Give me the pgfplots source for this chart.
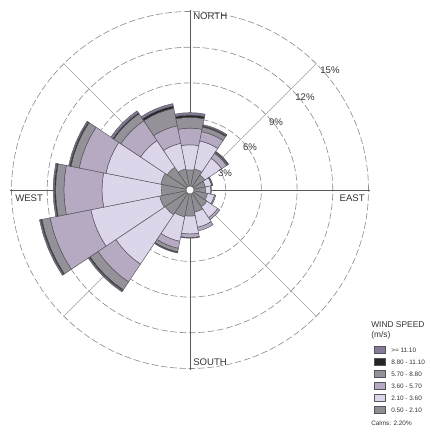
\documentclass[border=0pt]{standalone}
\usepackage{pgfplots}
\usepackage{pgfplotstable}
\pgfplotsset{compat=1.18}
\usepackage{fontspec}
\setmainfont{Liberation Sans}

\definecolor{bA}{HTML}{8E8E93}
\definecolor{bB}{HTML}{DDD6EB}
\definecolor{bC}{HTML}{B6AAC3}
\definecolor{bD}{HTML}{949298}
\definecolor{bE}{HTML}{262626}
\definecolor{bF}{HTML}{857A98}
\definecolor{edgec}{HTML}{55545A}
\definecolor{gridc}{HTML}{8A8A8A}

% frequency (%) of each speed class, per direction (N, NNE, ..., NNW)
\pgfplotstableread{
dir b1 b2 b3 b4 b5 b6
N   1.7 2.1 1.4 0.9 0.2 0.2
NNE 1.8 2.4 0.8 0.4 0.1 0.1
NE  1.5 1.7 0.5 0.1 0.05 0.05
ENE 1.3 0.55 0.05 0.05 0 0
E   1.3 0.45 0.05 0 0 0
ESE 1.5 0.6 0.1 0 0 0
SE  1.7 1.1 0.2 0 0 0
SSE 1.9 1.3 0.3 0 0 0
S   2.2 1.5 0.3 0.05 0 0
SSW 2.3 2.1 0.6 0.3 0.05 0.05
SW  2.5 5.0 1.8 0.8 0.1 0.1
WSW 2.6 5.9 3.5 0.7 0.1 0.1
W   2.4 5.0 3.2 0.7 0.1 0.1
WNW 2.5 4.7 2.3 0.7 0.1 0.1
NW  2.3 2.7 2.0 0.7 0.1 0.2
NNW 1.8 2.2 1.5 1.5 0.2 0.2
}\rosedata

\newcommand\seg[4]{%
  \ifdim #3pt>#2pt
  \pgfmathsetmacro\tA{90-22.5*#1+11.25}%
  \pgfmathsetmacro\tB{90-22.5*#1+5.625}%
  \pgfmathsetmacro\tC{90-22.5*#1}%
  \pgfmathsetmacro\tD{90-22.5*#1-5.625}%
  \pgfmathsetmacro\tE{90-22.5*#1-11.25}%
  \edef\segcmd{\noexpand\addplot[data cs=polar, fill=#4, draw=edgec, line width=0.35pt]
    coordinates {(\tA,#3) (\tB,#3) (\tC,#3) (\tD,#3) (\tE,#3)
                 (\tE,#2) (\tD,#2) (\tC,#2) (\tB,#2) (\tA,#2)} -- cycle;}%
  \segcmd
  \fi
}

\newcommand\rosedir[1]{%
  \pgfplotstablegetelem{#1}{b1}\of\rosedata\pgfmathsetmacro\cA{\pgfplotsretval}%
  \pgfplotstablegetelem{#1}{b2}\of\rosedata\pgfmathsetmacro\cB{\cA+\pgfplotsretval}%
  \pgfplotstablegetelem{#1}{b3}\of\rosedata\pgfmathsetmacro\cC{\cB+\pgfplotsretval}%
  \pgfplotstablegetelem{#1}{b4}\of\rosedata\pgfmathsetmacro\cD{\cC+\pgfplotsretval}%
  \pgfplotstablegetelem{#1}{b5}\of\rosedata\pgfmathsetmacro\cE{\cD+\pgfplotsretval}%
  \pgfplotstablegetelem{#1}{b6}\of\rosedata\pgfmathsetmacro\cF{\cE+\pgfplotsretval}%
  \seg{#1}{0}{\cA}{bA}%
  \seg{#1}{\cA}{\cB}{bB}%
  \seg{#1}{\cB}{\cC}{bC}%
  \seg{#1}{\cC}{\cD}{bD}%
  \seg{#1}{\cD}{\cE}{bE}%
  \seg{#1}{\cE}{\cF}{bF}%
}

\begin{document}
\begin{tikzpicture}[x=0.75pt, y=0.75pt]
\useasboundingbox (-190,-242) rectangle (240,190);
% grid
\foreach \r in {35.7,71.4,107.1,142.8,178.5}{
  \draw[gridc, line width=0.45pt, dash pattern=on 5pt off 2pt] (0,0) circle[radius=\r*0.75pt];
}
\draw[gridc!80, line width=0.4pt] (0,0) -- (45:178.5) (0,0) -- (135:178.5)
   (0,0) -- (225:178.5) (0,0) -- (315:178.5);
\draw[black!65, line width=0.5pt] (0,180) -- (0,-180) (-180,0) -- (180,0);

\begin{axis}[
  at={(0,0)}, anchor=origin,
  x=8.925pt, y=8.925pt,
  xmin=-16, xmax=16, ymin=-16, ymax=16,
  hide axis, clip=false,
]
\pgfplotsforeachungrouped \i in {0,...,15}{\rosedir{\i}}
\end{axis}

\fill[white] (0,0) circle[radius=4*0.75pt];
\draw[edgec, line width=0.3pt] (0,0) circle[radius=4*0.75pt];

% direction labels
\begin{scope}[every node/.style={inner sep=0pt, font=\fontsize{7.2pt}{8pt}\selectfont, text=black!80}]
\node[anchor=north west] at (3,177) {NORTH};
\node[anchor=north east] at (175,-5) {EAST};
\node[anchor=north west] at (-175,-5) {WEST};
\node[anchor=south west] at (3,-176) {SOUTH};
\node at (35,17) {3\%};
\node at (60,43) {6\%};
\node at (86,68) {9\%};
\node at (115,93) {12\%};
\node at (140,120) {15\%};
\end{scope}

% legend
\begin{scope}[every node/.style={inner sep=0pt, anchor=west, text=black!80}]
\node[font=\fontsize{6.3pt}{7pt}\selectfont] at (181,-135) {WIND SPEED};
\node[font=\fontsize{6.3pt}{7pt}\selectfont] at (181,-145) {(m/s)};
\foreach \c/\t [count=\k from 0] in {bF/>= 11.10, bE/8.80 - 11.10, bD/5.70 - 8.80, bC/3.60 - 5.70, bB/2.10 - 3.60, bA/0.50 - 2.10}{
  \filldraw[fill=\c, draw=edgec, line width=0.3pt] (184,-160-12*\k-3.5) rectangle (195,-160-12*\k+3.5);
  \node[font=\fontsize{4.8pt}{6pt}\selectfont] at (201,-160-12*\k) {\t};
}
\node[font=\fontsize{4.8pt}{6pt}\selectfont] at (181,-233) {Calms: 2.20\%};
\end{scope}
\end{tikzpicture}
\end{document}
